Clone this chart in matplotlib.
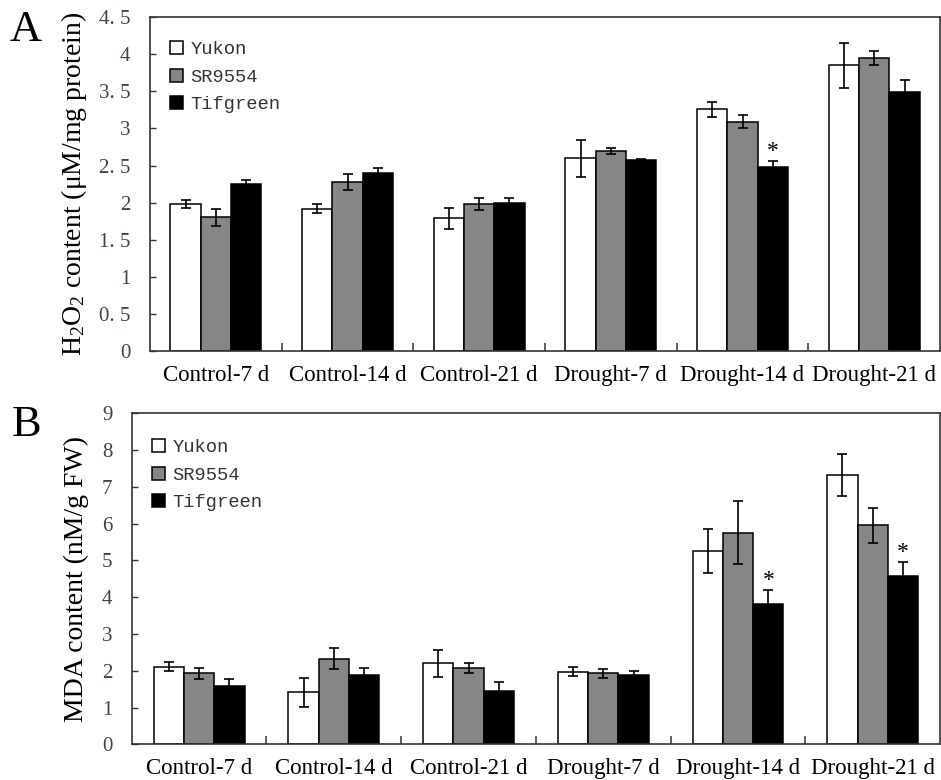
import matplotlib
matplotlib.use("Agg")
import matplotlib.pyplot as plt
import numpy as np

plt.rcParams['font.family'] = ['Liberation Serif', 'DejaVu Serif']
plt.rcParams['mathtext.fontset'] = 'custom'
plt.rcParams['mathtext.rm'] = 'Liberation Serif'
plt.rcParams['mathtext.it'] = 'Liberation Serif:italic'

# data
categories = ['Control-7 d', 'Control-14 d', 'Control-21 d',
              'Drought-7 d', 'Drought-14 d', 'Drought-21 d']
cultivars = ['Yukon', 'SR9554', 'Tifgreen']

h2o2_yukon = [1.98, 1.92, 1.79, 2.60, 3.26, 3.85]
h2o2_sr = [1.80, 2.28, 1.98, 2.70, 3.09, 3.95]
h2o2_tif = [2.25, 2.40, 2.00, 2.58, 2.48, 3.49]
h2o2_yukon_err = [0.05, 0.055, 0.14, 0.25, 0.10, 0.30]
h2o2_sr_err = [0.12, 0.11, 0.08, 0.04, 0.09, 0.10]
h2o2_tif_err = [0.05, 0.07, 0.06, 0.01, 0.08, 0.16]
h2o2_star = [4]  # index of Tifgreen bars marked *

mda_yukon = [2.11, 1.41, 2.20, 1.97, 5.26, 7.32]
mda_sr = [1.93, 2.33, 2.08, 1.93, 5.76, 5.96]
mda_tif = [1.58, 1.88, 1.45, 1.88, 3.81, 4.58]
mda_yukon_err = [0.13, 0.40, 0.36, 0.12, 0.59, 0.58]
mda_sr_err = [0.15, 0.28, 0.14, 0.13, 0.86, 0.48]
mda_tif_err = [0.20, 0.20, 0.24, 0.11, 0.39, 0.38]
mda_star = [4, 5]

h2o2_ticks = [0, 0.5, 1, 1.5, 2, 2.5, 3, 3.5, 4, 4.5]
h2o2_ticklabels = ['0', '0. 5', '1', '1. 5', '2', '2. 5', '3', '3. 5', '4', '4. 5']
mda_ticks = [0, 1, 2, 3, 4, 5, 6, 7, 8, 9]

colors = ['white', '#868686', 'black']
tick_col = '#3a4450'
spine_col = '#333333'


def draw_panel(ax, series, errors, stars, ylim, yticks, yticklabels, ylabel,
               label_x, bar_w, leg_y):
    x = np.arange(len(categories))
    for i, (vals, errs) in enumerate(zip(series, errors)):
        xpos = x + (i - 1) * bar_w
        ax.bar(xpos, vals, bar_w, color=colors[i], edgecolor='black',
               linewidth=1.1, label=cultivars[i], zorder=2)
        ax.errorbar(xpos, vals, yerr=errs, fmt='none', ecolor='black',
                    elinewidth=1.2, capsize=3.6, capthick=1.2, zorder=3)
    tif_vals, tif_errs = series[2], errors[2]
    for j in stars:
        ax.annotate('*', (x[j] + bar_w, tif_vals[j] + tif_errs[j]),
                    xytext=(0, -1), textcoords='offset points',
                    ha='center', va='bottom', fontsize=17)

    ax.set_xlim(-0.5, len(categories) - 0.5)
    ax.set_ylim(*ylim)
    ax.set_xticks(x)
    ax.set_xticklabels(categories, fontsize=16.5)
    ax.set_xticks(np.arange(0.5, len(categories) - 0.5), minor=True)
    ax.tick_params(axis='x', which='major', length=0, pad=10)
    ax.tick_params(axis='x', which='minor', direction='in', length=6,
                   width=1.1, color=spine_col)
    ax.set_yticks(yticks)
    ax.set_yticklabels(yticklabels)
    ax.tick_params(axis='y', direction='in', length=4, width=1.0,
                   color=spine_col, labelsize=15, labelcolor=tick_col, pad=14)
    for s in ax.spines.values():
        s.set_color(spine_col)
        s.set_linewidth(1.2)
    ax.set_ylabel(ylabel, fontsize=20)
    ax.yaxis.set_label_coords(label_x, 0.5)

    leg = ax.legend(loc='upper left', bbox_to_anchor=(0.025, leg_y),
                    frameon=False, borderaxespad=0, borderpad=0,
                    handlelength=0.7, handleheight=0.7, handletextpad=0.4,
                    labelspacing=0.55,
                    prop={'family': 'Liberation Mono', 'size': 13.5})
    for t in leg.get_texts():
        t.set_color('#333333')


fig = plt.figure(figsize=(9.41, 7.80), dpi=100)
ax_a = fig.add_axes([0.1594, 0.55, 0.8396, 0.428])
ax_b = fig.add_axes([0.14, 0.0458, 0.859, 0.4242])

draw_panel(ax_a, [h2o2_yukon, h2o2_sr, h2o2_tif],
           [h2o2_yukon_err, h2o2_sr_err, h2o2_tif_err], h2o2_star,
           (0, 4.5), h2o2_ticks, h2o2_ticklabels,
           'H$_2$O$_2$ content (μM/mg protein)', -0.077, 0.23, 0.928)
draw_panel(ax_b, [mda_yukon, mda_sr, mda_tif],
           [mda_yukon_err, mda_sr_err, mda_tif_err], mda_star,
           (0, 9), mda_ticks, [str(t) for t in mda_ticks],
           'MDA content (nM/g FW)', -0.053, 0.225, 0.922)

fig.text(0.010, 0.962, 'A', fontsize=32, va='center', ha='left')
fig.text(0.012, 0.455, 'B', fontsize=32, va='center', ha='left')

fig.savefig('out.png', dpi=100)
